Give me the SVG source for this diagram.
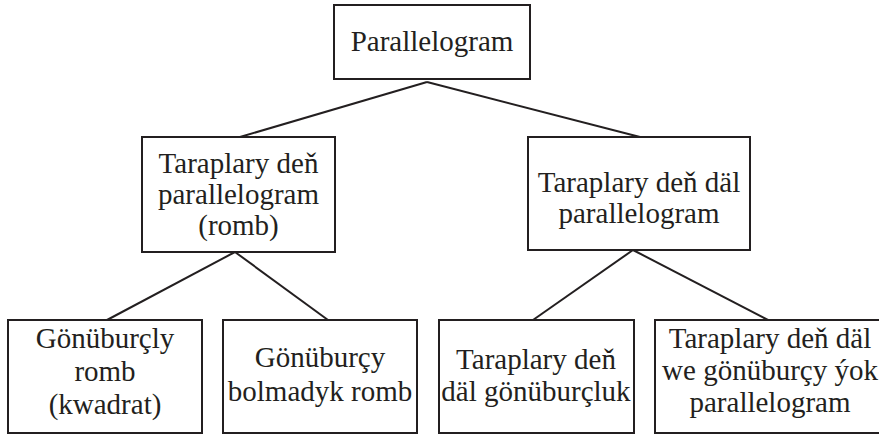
<svg xmlns="http://www.w3.org/2000/svg" width="879" height="435" viewBox="0 0 879 435">
<style>
.box{fill:#fff;stroke:#231f20;stroke-width:2}
.lbl{font-family:"Liberation Serif","Times New Roman",serif;font-size:29px;fill:#231f20;text-anchor:middle}
.edge{stroke:#231f20;stroke-width:2;fill:none}
</style>
<rect width="879" height="435" fill="#fff"/>
<g id="connectors">
<line class="edge" x1="427" y1="82" x2="240" y2="137"/>
<line class="edge" x1="427" y1="82" x2="640" y2="137"/>
<line class="edge" x1="235" y1="252" x2="107" y2="320"/>
<line class="edge" x1="235" y1="252" x2="328" y2="320"/>
<line class="edge" x1="633" y1="250" x2="533" y2="320"/>
<line class="edge" x1="633" y1="250" x2="768" y2="320"/>
</g>
<g id="n-parallelogram">
<rect class="box" x="334" y="5" width="196" height="74"/>
<text class="lbl" x="432" y="51">Parallelogram</text>
</g>
<g id="n-romb">
<rect class="box" x="142" y="137" width="193" height="115"/>
<text class="lbl" x="238.5" y="173">Taraplary deň</text>
<text class="lbl" x="238.5" y="204">parallelogram</text>
<text class="lbl" x="238.5" y="235">(romb)</text>
</g>
<g id="n-notequal">
<rect class="box" x="528" y="137" width="222" height="113"/>
<text class="lbl" x="639" y="192">Taraplary deň däl</text>
<text class="lbl" x="639" y="223">parallelogram</text>
</g>
<g id="n-kwadrat">
<rect class="box" x="8" y="320" width="194" height="113"/>
<text class="lbl" x="105" y="348">Gönüburçly</text>
<text class="lbl" x="105" y="381">romb</text>
<text class="lbl" x="105" y="414">(kwadrat)</text>
</g>
<g id="n-romb2">
<rect class="box" x="223" y="320" width="194" height="113"/>
<text class="lbl" x="320" y="367">Gönüburçy</text>
<text class="lbl" x="320" y="401">bolmadyk romb</text>
</g>
<g id="n-gonuburcluk">
<rect class="box" x="439" y="320" width="195" height="113"/>
<text class="lbl" x="536" y="369">Taraplary deň</text>
<text class="lbl" x="536" y="401">däl gönüburçluk</text>
</g>
<g id="n-other">
<rect class="box" x="655" y="320" width="230" height="113"/>
<text class="lbl" x="770" y="348">Taraplary deň däl</text>
<text class="lbl" x="770" y="380">we gönüburçy ýok</text>
<text class="lbl" x="770" y="412">parallelogram</text>
</g>
</svg>
